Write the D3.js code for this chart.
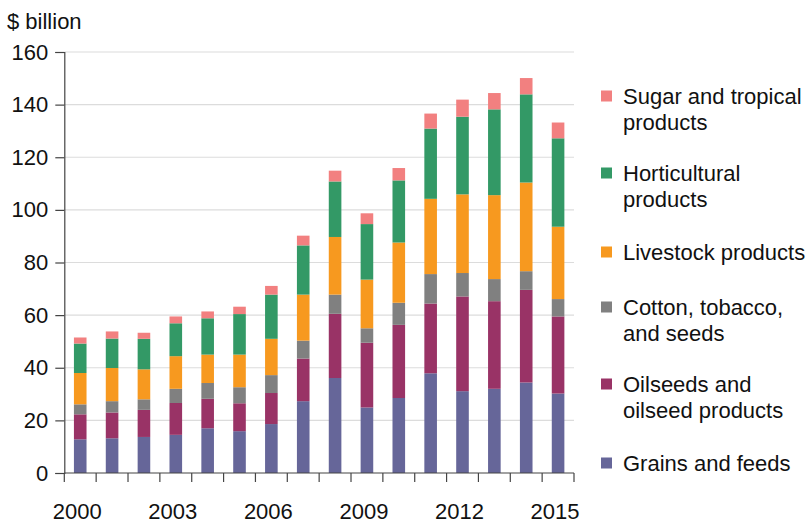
<!DOCTYPE html>
<html>
<head>
<meta charset="utf-8">
<script src="https://cdn.jsdelivr.net/npm/d3@7"></script>
<style>
  html, body { margin: 0; padding: 0; background: #fff; }
  svg { display: block; font-family: "Liberation Sans", Arial, Helvetica, sans-serif; }
</style>
</head>
<body>
<svg id="chart" width="811" height="524"></svg>
<script>
const years = ["2000","2001","2002","2003","2004","2005","2006","2007","2008","2009","2010","2011","2012","2013","2014","2015"];
const yearLabels = ["2000","2003","2006","2009","2012","2015"];
const yTicks = [0,20,40,60,80,100,120,140,160];

const grains       = [12.8,13.2,13.7,14.5,17.0,15.9,18.6,27.3,36.1,24.9,28.5,37.9,31.1,32.0,34.4,30.2];
const oilseeds     = [9.5,9.8,10.3,12.1,11.2,10.6,11.8,16.2,24.4,24.6,27.8,26.5,36.0,33.3,35.2,29.3];
const cotton       = [3.8,4.3,4.0,5.4,6.0,6.1,6.8,6.8,7.3,5.5,8.4,11.2,8.9,8.4,7.1,6.6];
const livestock    = [11.9,12.6,11.4,12.4,10.8,12.4,13.8,17.5,21.9,18.5,22.9,28.6,29.9,31.9,33.7,27.5];
const horticulture = [11.2,11.2,11.6,12.5,13.8,15.4,16.8,18.7,21.1,21.1,23.6,26.7,29.5,32.6,33.5,33.6];
const sugar        = [2.3,2.7,2.3,2.6,2.6,2.8,3.3,3.7,4.1,4.1,4.7,5.7,6.5,6.2,6.2,6.0];

const seriesKeys   = ["grains","oilseeds","cotton","livestock","horticulture","sugar"];
const seriesNames  = [["Grains and feeds"],["Oilseeds and","oilseed products"],["Cotton, tobacco,","and seeds"],["Livestock products"],["Horticultural","products"],["Sugar and tropical","products"]];
const seriesColors = ["#666699","#993366","#808080","#F7991F","#339966","#F28080"];

const table = years.map((yr,i) => ({year:yr, grains:grains[i], oilseeds:oilseeds[i], cotton:cotton[i], livestock:livestock[i], horticulture:horticulture[i], sugar:sugar[i]}));
const stacked = d3.stack().keys(seriesKeys)(table);

const svg = d3.select("#chart");
const mLeft = 64.3, mRight = 574, mTop = 52, mBottom = 473;

const xb = d3.scaleBand().domain(years).range([mLeft, mRight]);
const y = d3.scaleLinear().domain([0,160]).range([mBottom, mTop]);

// gridlines
svg.append("g").selectAll("line").data(yTicks.filter(d => d > 0)).join("line")
  .attr("x1", mLeft).attr("x2", mRight)
  .attr("y1", d => y(d)).attr("y2", d => y(d))
  .attr("stroke", "#dcdcdc").attr("stroke-width", 1.2);

// bars
const bw = 12.6;
svg.append("g").selectAll("g").data(stacked).join("g")
  .attr("fill", (d,i) => seriesColors[i])
  .selectAll("rect").data(d => d).join("rect")
  .attr("x", d => xb(d.data.year) + xb.bandwidth()/2 - bw/2)
  .attr("width", bw)
  .attr("y", d => y(d[1]))
  .attr("height", d => y(d[0]) - y(d[1]));

// y axis
const yAxis = svg.append("g").attr("transform", `translate(${mLeft},0)`)
  .call(d3.axisLeft(y).tickValues(yTicks).tickSize(9).tickPadding(7));
yAxis.select(".domain").attr("stroke", "#444").attr("stroke-width", 1.2);
yAxis.selectAll(".tick line").attr("stroke", "#444").attr("stroke-width", 1.2);
yAxis.selectAll("text").attr("font-size", 22).attr("fill", "#111").attr("font-family", "Liberation Sans, Arial, sans-serif");

// x axis ticks at band boundaries
const boundaries = years.map(d => xb(d)).concat([mRight]);
svg.append("line").attr("x1", mLeft).attr("x2", mRight).attr("y1", mBottom).attr("y2", mBottom)
  .attr("stroke", "#444").attr("stroke-width", 1.2);
svg.append("g").selectAll("line").data(boundaries).join("line")
  .attr("x1", d => d).attr("x2", d => d).attr("y1", mBottom).attr("y2", mBottom + 9)
  .attr("stroke", "#444").attr("stroke-width", 1.2);

svg.append("g").selectAll("text").data(yearLabels).join("text")
  .attr("x", d => xb(d) + xb.bandwidth()/2 - 3)
  .attr("y", 519)
  .attr("text-anchor", "middle")
  .attr("font-size", 22).attr("fill", "#111")
  .text(d => d);

// y label
svg.append("text").attr("x", 7).attr("y", 29).attr("font-size", 22).attr("fill", "#111").text("$ billion");

// legend
const legendY = [463, 384, 307, 252, 173, 96];
const lg = svg.append("g");
seriesKeys.forEach((k, i) => {
  const g = lg.append("g").attr("transform", `translate(601,${legendY[i]})`);
  g.append("rect").attr("x", 0).attr("y", -5.5).attr("width", 11).attr("height", 11).attr("fill", seriesColors[i]);
  seriesNames[i].forEach((line, j) => {
    g.append("text").attr("x", 22).attr("y", j * 26).attr("dy", "0.35em")
      .attr("font-size", 22).attr("fill", "#111").text(line);
  });
});
</script>
</body>
</html>
